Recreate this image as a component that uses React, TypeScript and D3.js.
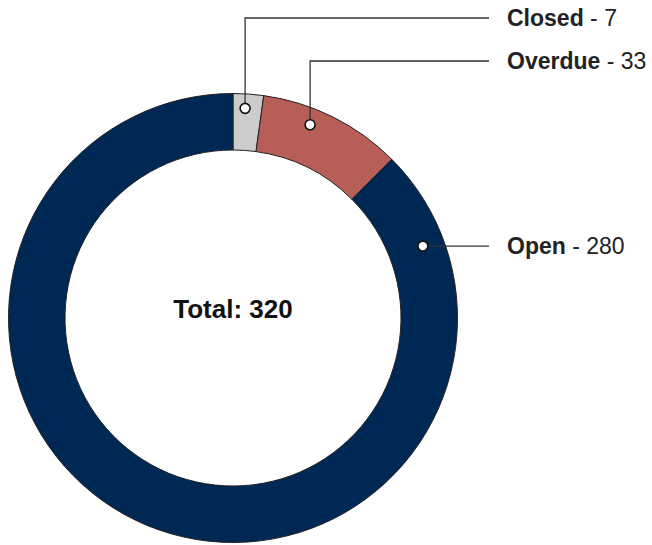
import * as d3 from 'd3'

// data
const categories = ['Closed', 'Overdue', 'Open']
const counts = [7, 33, 280]
const colors = ['#cccccc', '#b75e59', '#002855']

// where each callout sits: position along the slice, radius of the dot, y of the label row
const calloutT = [0.42, 0.374, 0.077]
const calloutR = [210, 208, 203]
const calloutRowY = [18, 61, null]

const width = 652
const height = 545
const cx = 233
const cy = 318
const outerR = 224.5
const innerR = 168
const labelX = 507
const lineEndX = 489

export default function App() {
  const total = d3.sum(counts)
  const rows = categories.map((c, i) => ({ name: c, value: counts[i], color: colors[i] }))

  const pie = d3
    .pie<any>()
    .sort(null)
    .value((d) => d.value)
  const arcs = pie(rows)
  const arc = d3.arc<any>().innerRadius(innerR).outerRadius(outerR)

  return (
    <svg
      width={width}
      height={height}
      style={{ position: 'absolute', left: 0, top: 0, fontFamily: 'Arial, "Liberation Sans", sans-serif' }}
    >
      <g transform={`translate(${cx},${cy})`}>
        {arcs.map((a, i) => (
          <path key={i} d={arc(a) || ''} fill={a.data.color} stroke="#222" strokeWidth={1} />
        ))}
      </g>

      {arcs.map((a, i) => {
        // dot position on the ring
        const ang = a.startAngle + (a.endAngle - a.startAngle) * calloutT[i]
        const dx = cx + calloutR[i] * Math.sin(ang)
        const dy = cy - calloutR[i] * Math.cos(ang)
        const rowY = calloutRowY[i] == null ? dy : calloutRowY[i]
        const path =
          rowY === dy
            ? `M${dx},${dy}H${lineEndX}`
            : `M${dx},${dy}V${rowY}H${lineEndX}`
        return (
          <g key={i}>
            <path d={path} fill="none" stroke="#333" strokeWidth={1.3} />
            <circle cx={dx} cy={dy} r={5} fill="#fff" stroke="#111" strokeWidth={1.6} />
            <text x={labelX} y={rowY} dy="0.35em" fontSize={23} fill="#222">
              <tspan fontWeight="bold">{a.data.name}</tspan>
              <tspan> - {a.data.value}</tspan>
            </text>
          </g>
        )
      })}

      <text x={cx} y={cy} textAnchor="middle" fontSize={26} fontWeight="bold" fill="#111">
        Total: {total}
      </text>
    </svg>
  )
}
